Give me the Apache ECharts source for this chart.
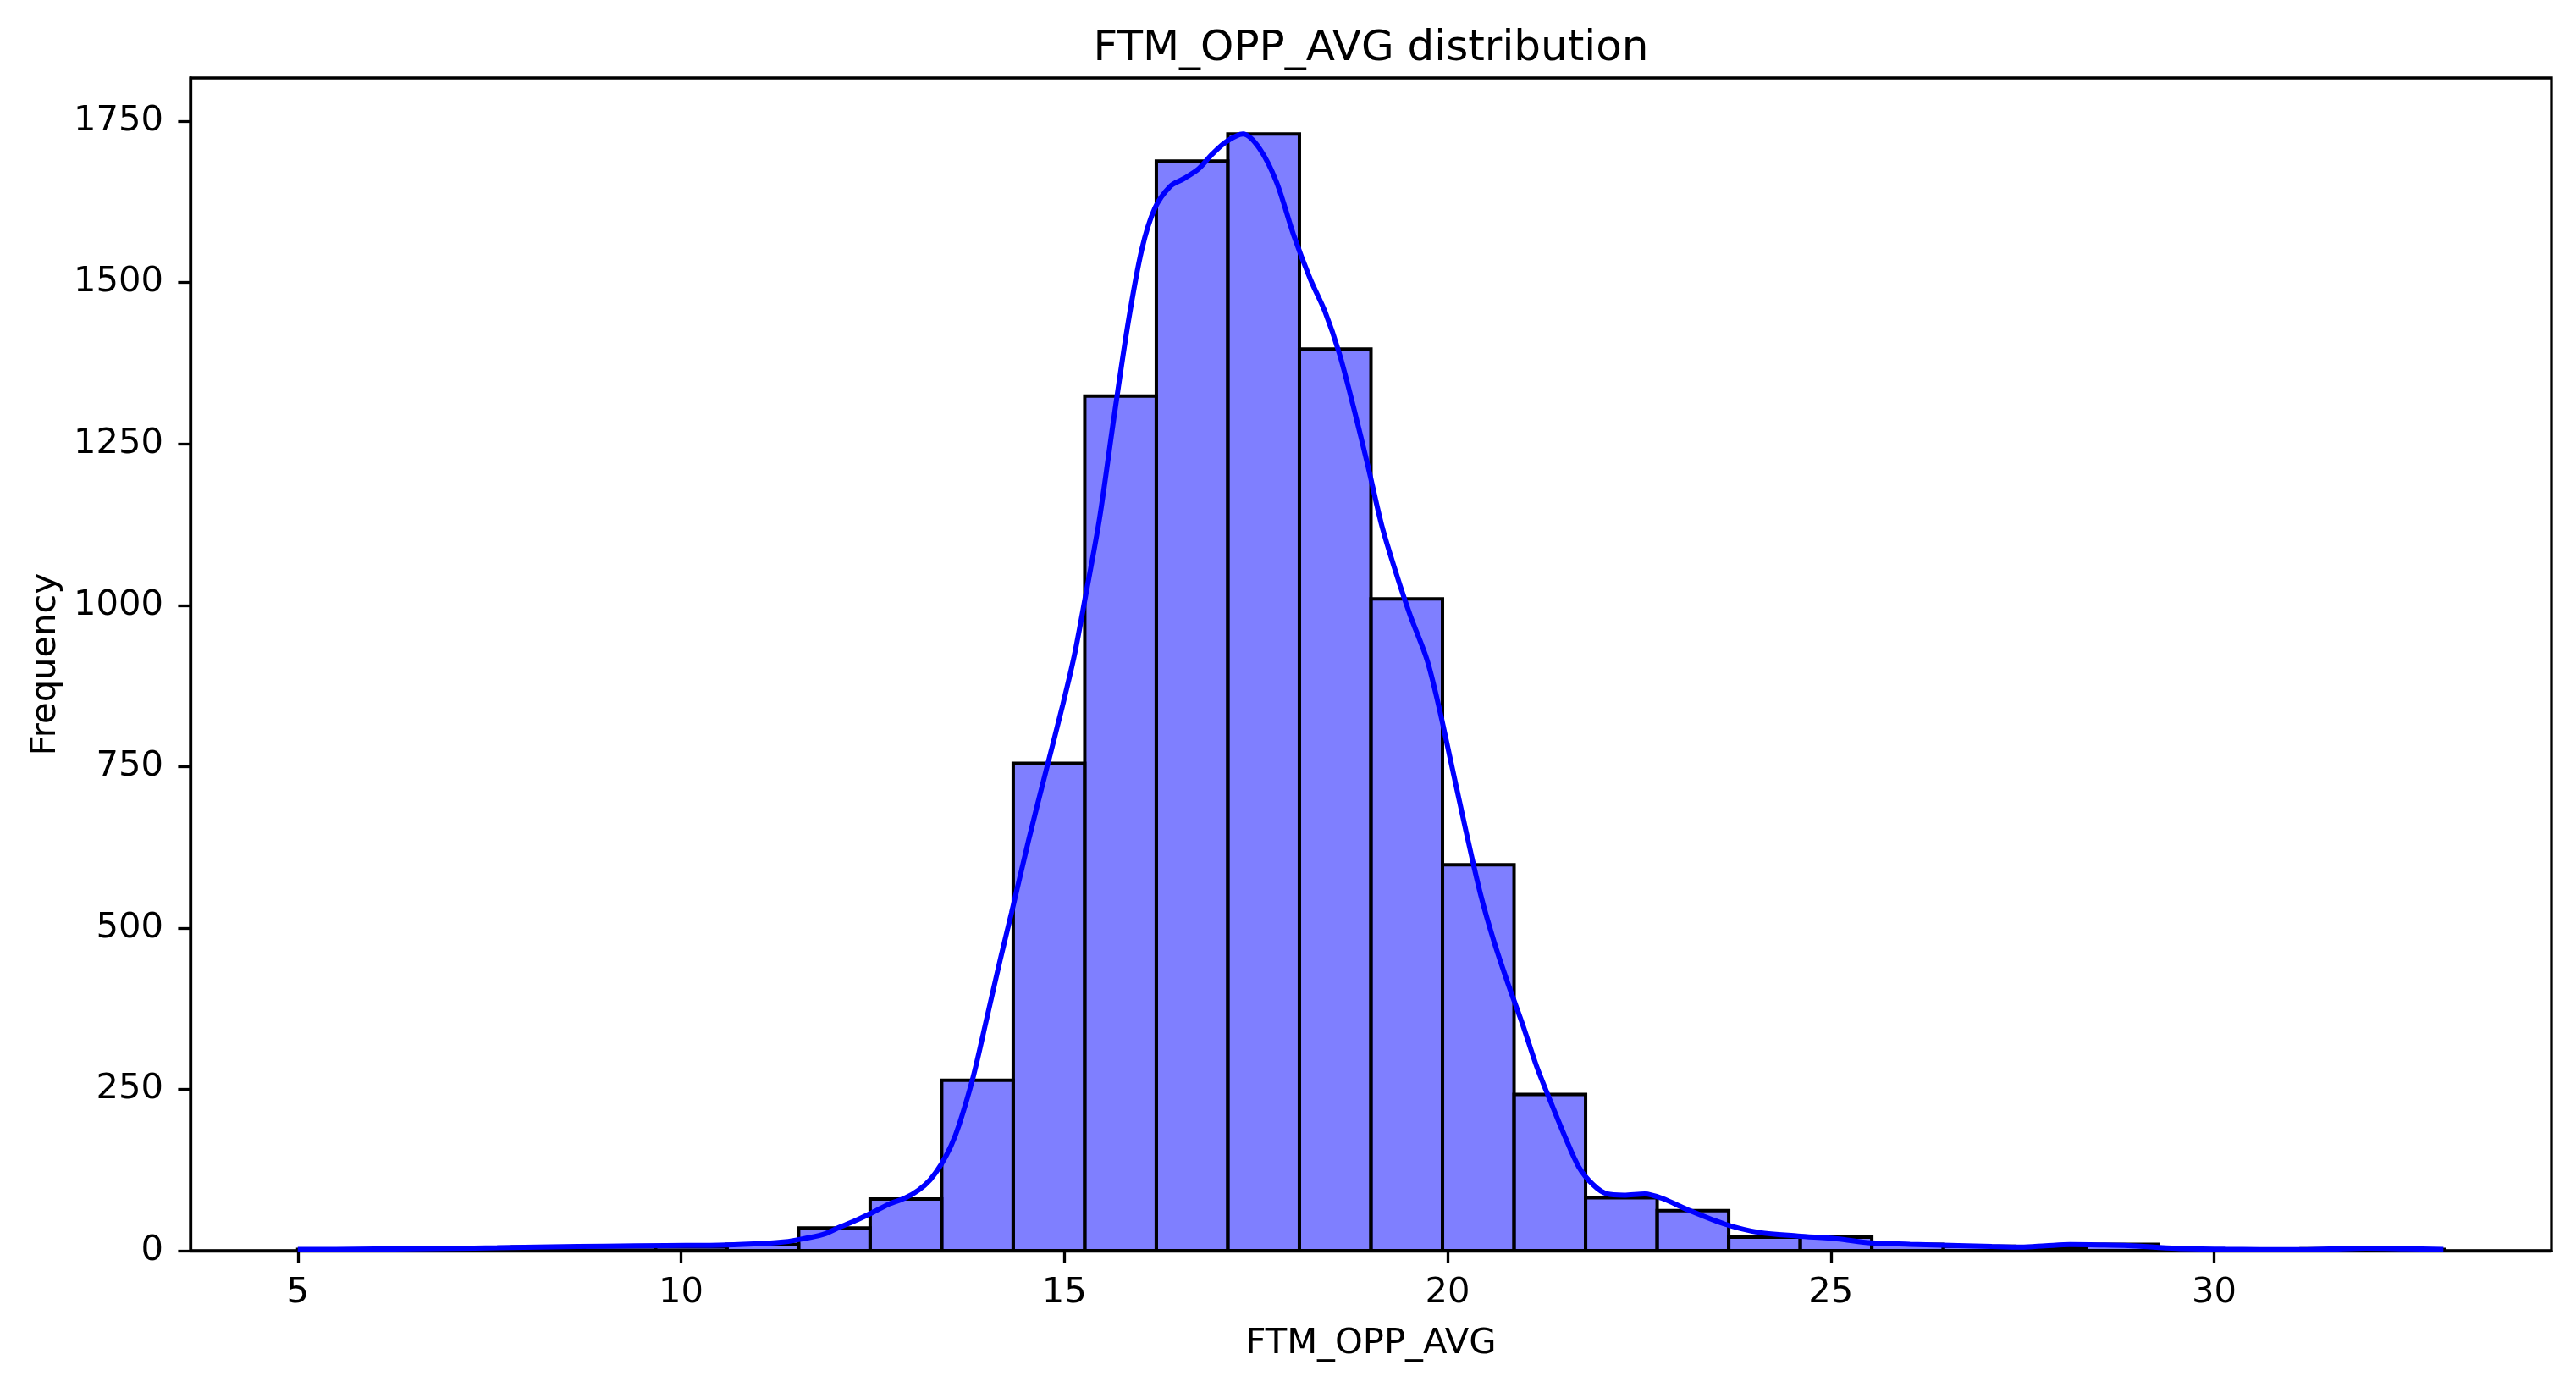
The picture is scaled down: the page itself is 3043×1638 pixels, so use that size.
<!DOCTYPE html>
<html>
<head>
<meta charset="utf-8">
<script src="https://cdn.jsdelivr.net/npm/echarts@6/dist/echarts.min.js"></script>
<style>
html,body{margin:0;padding:0;background:#fff;}
#chart{width:3043px;height:1638px;}
</style>
</head>
<body>
<div id="chart"></div>
<script>
// Histogram: 30 bins from 5 to 33
const binMin = 5;
const binMax = 33;
const binCounts = [2, 1, 2, 6, 6, 6, 10, 35, 80, 264, 755, 1324, 1688, 1730, 1397, 1010, 598, 242, 82, 62, 21, 21, 10, 7, 5, 10, 2, 1, 3, 2];

// KDE curve (x value, count scale)
const kdeX = [5.0, 5.5, 6.0, 6.5, 7.0, 7.6, 8.3, 9.0, 9.8, 10.5, 10.95, 11.3, 11.51, 11.85, 12.08, 12.3, 12.48, 12.71, 12.93, 13.1, 13.25, 13.39, 13.52, 13.63, 13.81, 13.99, 14.17, 14.31, 14.54, 14.76, 14.98, 15.13, 15.27, 15.46, 15.64, 15.83, 16.01, 16.18, 16.38, 16.56, 16.75, 16.93, 17.11, 17.33, 17.55, 17.77, 17.99, 18.21, 18.40, 18.59, 18.77, 18.96, 19.14, 19.33, 19.51, 19.73, 19.88, 20.06, 20.24, 20.43, 20.61, 20.79, 20.98, 21.16, 21.35, 21.53, 21.71, 21.90, 22.08, 22.30, 22.57, 22.80, 23.16, 23.62, 24.07, 24.57, 25.08, 25.52, 26.03, 26.66, 27.1, 27.48, 27.8, 28.12, 28.5, 28.88, 29.51, 30.14, 30.6, 31.09, 31.5, 31.98, 32.5, 32.99];
const kdeY = [2, 2, 2.5, 3, 3.5, 4.5, 6, 7, 8, 8.5, 10.5, 13, 16.6, 25, 37, 48, 58, 72, 82, 94, 110, 133, 162, 196, 269, 361, 454, 523, 639, 743, 846, 922, 1010, 1135, 1285, 1436, 1551, 1615, 1649, 1661, 1676, 1699, 1718, 1730, 1707, 1655, 1574, 1505, 1455, 1389, 1308, 1216, 1124, 1049, 985, 916, 846, 748, 650, 552, 477, 413, 350, 286, 229, 177, 130, 102, 88, 86, 88, 81, 62, 41, 28, 22.7, 18.4, 12, 10, 8, 6.5, 5.5, 7.5, 9.5, 9, 8, 3.5, 2.2, 1.8, 1.5, 2.5, 4, 3, 2];

// Axis ticks
const xTicks = [5, 10, 15, 20, 25, 30];
const yTicks = [0, 250, 500, 750, 1000, 1250, 1500, 1750];

const title = 'FTM_OPP_AVG distribution';
const xName = 'FTM_OPP_AVG';
const yName = 'Frequency';

const binW = (binMax - binMin) / binCounts.length;
const barData = binCounts.map((c, i) => [binMin + i * binW, binMin + (i + 1) * binW, c]);
const kdeData = kdeX.map((x, i) => [x, kdeY[i]]);

const FONT = 'DejaVu Sans';
const FS = 41.7;
const LW = 3.3;
const chart = echarts.init(document.getElementById('chart'), null, {renderer: 'canvas'});
chart.setOption({
  animation: false,
  backgroundColor: '#ffffff',
  textStyle: {fontFamily: FONT, color: '#000'},
  title: {
    text: title,
    left: 1619.5,
    top: 33,
    padding: 0,
    textAlign: 'center',
    textStyle: {fontFamily: FONT, fontSize: 50, fontWeight: 'normal', color: '#000'}
  },
  grid: {
    left: 225, right: 29, top: 92, bottom: 161,
    show: true, borderColor: '#000', borderWidth: LW, backgroundColor: 'transparent'
  },
  xAxis: {
    type: 'value',
    min: 3.6, max: 34.4,
    name: xName,
    nameLocation: 'middle',
    nameGap: 89,
    nameTextStyle: {fontFamily: FONT, fontSize: FS, color: '#000'},
    splitLine: {show: false},
    axisLine: {show: true, onZero: false, lineStyle: {color: '#000', width: LW}},
    axisTick: {show: true, inside: false, length: 14.6, customValues: xTicks, lineStyle: {color: '#000', width: LW}},
    axisLabel: {show: true, margin: 29, customValues: xTicks, fontFamily: FONT, fontSize: FS, color: '#000',
      formatter: v => String(v)}
  },
  yAxis: {
    type: 'value',
    min: 0, max: 1817,
    name: yName,
    nameLocation: 'middle',
    nameGap: 150,
    nameTextStyle: {fontFamily: FONT, fontSize: FS, color: '#000'},
    splitLine: {show: false},
    axisLine: {show: true, onZero: false, lineStyle: {color: '#000', width: LW}},
    axisTick: {show: true, inside: false, length: 14.6, customValues: yTicks, lineStyle: {color: '#000', width: LW}},
    axisLabel: {show: true, margin: 32, customValues: yTicks, fontFamily: FONT, fontSize: FS, color: '#000',
      formatter: v => String(v)}
  },
  series: [
    {
      type: 'custom',
      name: 'hist',
      data: barData,
      encode: {x: [0, 1], y: 2},
      z: 2,
      renderItem: function (params, api) {
        const p0 = api.coord([api.value(0), api.value(2)]);
        const p1 = api.coord([api.value(1), 0]);
        return {
          type: 'rect',
          shape: {x: p0[0], y: p0[1], width: p1[0] - p0[0], height: p1[1] - p0[1]},
          style: {fill: 'rgba(0,0,255,0.5)', stroke: '#000', lineWidth: 4}
        };
      }
    },
    {
      type: 'line',
      name: 'kde',
      data: kdeData,
      smooth: 0.3,
      showSymbol: false,
      symbol: 'none',
      z: 3,
      lineStyle: {color: '#0000ff', width: 6}
    }
  ]
});
</script>
</body>
</html>
